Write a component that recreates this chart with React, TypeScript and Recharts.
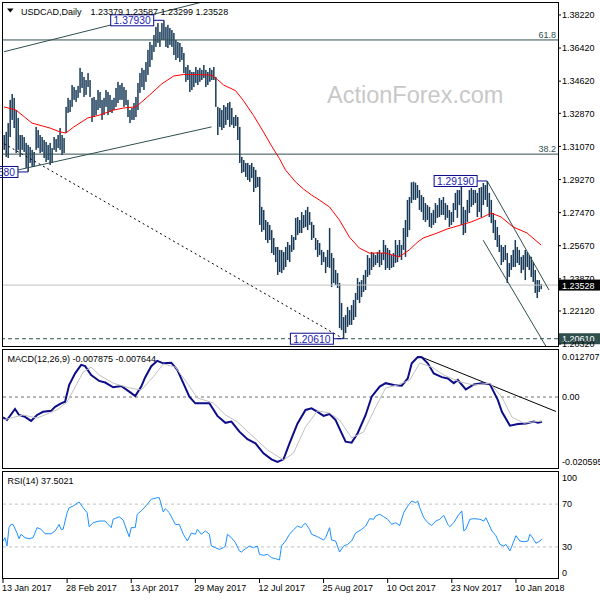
import { ComposedChart, Bar, Line, XAxis, YAxis, ReferenceLine, ReferenceDot } from 'recharts'

const FONT = "'Liberation Sans', Arial, sans-serif"
const BAR = '#183a58'
const SLATE = '#2f4f4f'
const NAVY = '#0a0a8c'
const TAG_TEXT = '#2323b0'

// x axis labels, one every 32 daily bars
const DATES = ['13 Jan 2017', '28 Feb 2017', '13 Apr 2017', '29 May 2017', '12 Jul 2017', '25 Aug 2017', '10 Oct 2017', '23 Nov 2017', '10 Jan 2018']

// daily highs / lows, 13 Jan 2017 onwards
const HIGH = [
  1.3169, 1.3186, 1.3234, 1.3360, 1.3392, 1.3371, 1.3305, 1.3262, 1.3169, 1.3169,
  1.3158, 1.3126, 1.3115, 1.3104, 1.3088, 1.3077, 1.3213, 1.3196, 1.3169, 1.3158,
  1.3142, 1.3131, 1.3115, 1.3126, 1.3098, 1.3158, 1.3147, 1.3169, 1.3207, 1.3169,
  1.3153, 1.3322, 1.3371, 1.3360, 1.3441, 1.3430, 1.3414, 1.3436, 1.3534, 1.3512,
  1.3485, 1.3468, 1.3506, 1.3468, 1.3371, 1.3376, 1.3360, 1.3414, 1.3403, 1.3360,
  1.3371, 1.3414, 1.3403, 1.3387, 1.3360, 1.3371, 1.3425, 1.3458, 1.3441, 1.3452,
  1.3430, 1.3414, 1.3360, 1.3305, 1.3316, 1.3343, 1.3376, 1.3452, 1.3506, 1.3534,
  1.3523, 1.3566, 1.3632, 1.3675, 1.3659, 1.3713, 1.3757, 1.3778, 1.3730, 1.3778,
  1.3793, 1.3757, 1.3768, 1.3751, 1.3740, 1.3724, 1.3686, 1.3675, 1.3670, 1.3648,
  1.3615, 1.3539, 1.3550, 1.3523, 1.3512, 1.3512, 1.3539, 1.3523, 1.3534, 1.3523,
  1.3550, 1.3523, 1.3512, 1.3534, 1.3523, 1.3539, 1.3485, 1.3322, 1.3316, 1.3305,
  1.3332, 1.3322, 1.3343, 1.3349, 1.3316, 1.3267, 1.3278, 1.3267, 1.3213, 1.3050,
  1.3033, 1.3017, 1.3017, 1.3006, 1.3017, 1.2995, 1.2979, 1.2941, 1.2941, 1.2778,
  1.2761, 1.2707, 1.2696, 1.2680, 1.2652, 1.2609, 1.2560, 1.2560, 1.2544, 1.2544,
  1.2533, 1.2560, 1.2587, 1.2571, 1.2625, 1.2614, 1.2718, 1.2723, 1.2707, 1.2750,
  1.2734, 1.2761, 1.2778, 1.2750, 1.2696, 1.2680, 1.2609, 1.2598, 1.2582, 1.2544,
  1.2533, 1.2506, 1.2544, 1.2663, 1.2527, 1.2500, 1.2435, 1.2418, 1.2364, 1.2255,
  1.2179, 1.2190, 1.2234, 1.2217, 1.2244, 1.2272, 1.2310, 1.2391, 1.2370, 1.2380,
  1.2408, 1.2435, 1.2516, 1.2500, 1.2533, 1.2527, 1.2516, 1.2533, 1.2544, 1.2527,
  1.2598, 1.2571, 1.2554, 1.2544, 1.2516, 1.2527, 1.2598, 1.2571, 1.2598, 1.2571,
  1.2663, 1.2707, 1.2816, 1.2832, 1.2912, 1.2915, 1.2910, 1.2897, 1.2870, 1.2843,
  1.2832, 1.2799, 1.2788, 1.2778, 1.2745, 1.2761, 1.2799, 1.2788, 1.2826, 1.2816,
  1.2832, 1.2799, 1.2788, 1.2761, 1.2750, 1.2799, 1.2854, 1.2870, 1.2870, 1.2912,
  1.2778, 1.2761, 1.2816, 1.2870, 1.2881, 1.2870, 1.2870, 1.2854, 1.2881, 1.2886,
  1.2908, 1.2897, 1.2919, 1.2854, 1.2816, 1.2745, 1.2707, 1.2669, 1.2625, 1.2571,
  1.2560, 1.2571, 1.2527, 1.2473, 1.2516, 1.2544, 1.2598, 1.2560, 1.2544, 1.2506,
  1.2516, 1.2544, 1.2533, 1.2516, 1.2506, 1.2478, 1.2435, 1.2380, 1.2380, 1.2359,
]

const LOW = [
  1.3088, 1.3050, 1.3044, 1.3158, 1.3251, 1.3207, 1.3071, 1.3088, 1.3050, 1.3088,
  1.3077, 1.2990, 1.2968, 1.3017, 1.2995, 1.2995, 1.3088, 1.3098, 1.3071, 1.3077,
  1.3044, 1.3022, 1.3033, 1.3006, 1.3017, 1.3088, 1.3077, 1.3098, 1.3088, 1.3060,
  1.3071, 1.3180, 1.3289, 1.3294, 1.3322, 1.3360, 1.3349, 1.3371, 1.3398, 1.3425,
  1.3376, 1.3387, 1.3430, 1.3376, 1.3240, 1.3267, 1.3278, 1.3305, 1.3316, 1.3251,
  1.3278, 1.3322, 1.3278, 1.3294, 1.3289, 1.3305, 1.3322, 1.3343, 1.3360, 1.3360,
  1.3322, 1.3332, 1.3267, 1.3234, 1.3251, 1.3251, 1.3267, 1.3305, 1.3398, 1.3430,
  1.3414, 1.3458, 1.3496, 1.3539, 1.3577, 1.3621, 1.3648, 1.3670, 1.3648, 1.3686,
  1.3686, 1.3648, 1.3642, 1.3659, 1.3648, 1.3604, 1.3577, 1.3588, 1.3566, 1.3577,
  1.3506, 1.3458, 1.3468, 1.3403, 1.3414, 1.3430, 1.3452, 1.3441, 1.3458, 1.3468,
  1.3479, 1.3430, 1.3441, 1.3458, 1.3468, 1.3468, 1.3322, 1.3169, 1.3213, 1.3196,
  1.3207, 1.3224, 1.3251, 1.3213, 1.3224, 1.3207, 1.3218, 1.3142, 1.3017, 1.2962,
  1.2968, 1.2941, 1.2924, 1.2914, 1.2935, 1.2859, 1.2881, 1.2886, 1.2680, 1.2642,
  1.2652, 1.2598, 1.2582, 1.2598, 1.2527, 1.2516, 1.2478, 1.2408, 1.2424, 1.2418,
  1.2435, 1.2451, 1.2489, 1.2478, 1.2533, 1.2544, 1.2598, 1.2625, 1.2636, 1.2636,
  1.2663, 1.2669, 1.2652, 1.2680, 1.2598, 1.2609, 1.2544, 1.2506, 1.2516, 1.2462,
  1.2478, 1.2418, 1.2451, 1.2446, 1.2342, 1.2364, 1.2353, 1.2337, 1.2119, 1.2108,
  1.2061, 1.2092, 1.2125, 1.2136, 1.2136, 1.2163, 1.2179, 1.2272, 1.2255, 1.2288,
  1.2315, 1.2326, 1.2397, 1.2408, 1.2435, 1.2451, 1.2462, 1.2473, 1.2451, 1.2462,
  1.2489, 1.2435, 1.2446, 1.2435, 1.2446, 1.2451, 1.2473, 1.2478, 1.2506, 1.2489,
  1.2544, 1.2506, 1.2614, 1.2652, 1.2799, 1.2816, 1.2816, 1.2826, 1.2761, 1.2750,
  1.2707, 1.2696, 1.2707, 1.2669, 1.2663, 1.2680, 1.2690, 1.2718, 1.2723, 1.2734,
  1.2734, 1.2707, 1.2718, 1.2669, 1.2680, 1.2696, 1.2761, 1.2718, 1.2788, 1.2680,
  1.2625, 1.2636, 1.2696, 1.2745, 1.2778, 1.2788, 1.2799, 1.2723, 1.2750, 1.2723,
  1.2788, 1.2816, 1.2778, 1.2723, 1.2690, 1.2636, 1.2598, 1.2560, 1.2533, 1.2462,
  1.2478, 1.2489, 1.2364, 1.2397, 1.2435, 1.2451, 1.2451, 1.2473, 1.2462, 1.2418,
  1.2435, 1.2380, 1.2451, 1.2435, 1.2397, 1.2370, 1.2310, 1.2282, 1.2315, 1.2330,
]

// [bar index, value] points
const MA = [
  [0, 1.3322], [6, 1.3305], [14, 1.3234], [23, 1.3207], [28, 1.3186], [31, 1.3180], [35, 1.3213],
  [42, 1.3262], [48, 1.3278], [55, 1.3305], [60, 1.3316], [66, 1.3322], [69, 1.3349], [73, 1.3387],
  [79, 1.3447], [85, 1.3490], [90, 1.3498], [98, 1.3498], [104, 1.3494], [107, 1.3470], [110, 1.3441],
  [116, 1.3410], [120, 1.3355], [125, 1.3275], [130, 1.3185], [134, 1.3110], [138, 1.3040], [141, 1.2979],
  [146, 1.2914], [150, 1.2875], [154, 1.2843], [158, 1.2815], [163, 1.2778], [168, 1.2707], [173, 1.2614],
  [178, 1.2554], [183, 1.2527], [191, 1.2527], [198, 1.2506], [203, 1.2544], [207, 1.2585], [210, 1.2609],
  [217, 1.2636], [222, 1.2658], [229, 1.2680], [234, 1.2696], [240, 1.2723], [244, 1.2745], [249, 1.2723],
  [255, 1.2669], [262, 1.2636], [269, 1.2571],
]

const MACD = [
  [0, -0.0065], [2, -0.0073], [6, -0.0038], [8, -0.0057], [11, -0.0063], [14, -0.0076], [17, -0.0057],
  [20, -0.0047], [24, -0.0044], [26, -0.0031], [29, -0.0020], [31, -0.0015], [33, 0.0038], [36, 0.0075],
  [39, 0.0102], [41, 0.0098], [44, 0.0070], [48, 0.0051], [51, 0.0046], [55, 0.0031], [59, 0.0035],
  [63, 0.0017], [66, 0.0003], [69, 0.0033], [71, 0.0063], [74, 0.0098], [77, 0.0115], [80, 0.0107],
  [84, 0.0109], [87, 0.0086], [90, 0.0044], [93, 0.0001], [96, -0.0020], [99, -0.0020], [103, -0.0020],
  [107, -0.0060], [111, -0.0082], [114, -0.0078], [118, -0.0110], [122, -0.0134], [126, -0.0147],
  [130, -0.0179], [134, -0.0198], [137, -0.0206], [140, -0.0198], [143, -0.0147], [147, -0.0084],
  [151, -0.0041], [154, -0.0036], [157, -0.0047], [160, -0.0060], [163, -0.0054], [166, -0.0073],
  [169, -0.0115], [171, -0.0142], [174, -0.0145], [177, -0.0115], [181, -0.0057], [184, 0.0001],
  [188, 0.0033], [191, 0.0044], [195, 0.0038], [199, 0.0036], [202, 0.0059], [204, 0.0107], [207, 0.0127],
  [209, 0.0126], [212, 0.0107], [215, 0.0075], [219, 0.0063], [222, 0.0059], [225, 0.0044], [227, 0.0054],
  [231, 0.0024], [235, 0.0040], [239, 0.0044], [243, 0.0041], [247, -0.0010], [249, -0.0047],
  [253, -0.0091], [257, -0.0086], [261, -0.0084], [265, -0.0078], [267, -0.0082], [269, -0.0079],
]

const SIGNAL = [
  [0, -0.0073], [10, -0.0057], [17, -0.0067], [27, -0.0041], [32, -0.0016], [36, 0.0032], [40, 0.0079],
  [44, 0.0095], [48, 0.0070], [55, 0.0044], [63, 0.0029], [69, 0.0022], [75, 0.0064], [80, 0.0105],
  [86, 0.0095], [92, 0.0044], [97, -0.0003], [105, -0.0019], [111, -0.0057], [117, -0.0079],
  [124, -0.0121], [132, -0.0168], [140, -0.0200], [145, -0.0178], [151, -0.0095], [157, -0.0044],
  [163, -0.0051], [168, -0.0073], [174, -0.0130], [180, -0.0111], [186, -0.0032], [191, 0.0029],
  [197, 0.0038], [203, 0.0054], [208, 0.0108], [214, 0.0095], [220, 0.0070], [228, 0.0048], [235, 0.0038],
  [243, 0.0044], [249, 0.0000], [254, -0.0064], [260, -0.0083], [269, -0.0076],
]

const RSI = [
  [0, 35.5], [1, 38.6], [2, 30.8], [3, 48], [4, 51], [5, 51], [7, 43], [8, 37.7], [9, 41.8], [11, 38.6],
  [13, 37.7], [15, 38.6], [17, 48], [19, 46.4], [21, 42.3], [24, 42.3], [26, 44.9], [28, 51], [29, 46.4],
  [30, 46.4], [32, 62], [33, 66.6], [35, 68.2], [38, 72], [40, 66.6], [42, 62], [43, 48.9], [45, 52.6],
  [48, 54.2], [51, 54.2], [52, 52], [54, 48], [55, 55.8], [58, 58.2], [60, 55], [61, 49.5], [63, 39.5],
  [64, 48], [66, 48], [67, 60.5], [69, 63.6], [72, 69.8], [74, 74.5], [77, 76], [78, 76], [80, 62.6],
  [81, 65.7], [83, 62], [86, 51], [88, 51], [90, 41.8], [92, 35.5], [94, 43], [96, 41.8], [97, 46.4],
  [99, 41.8], [101, 44.9], [103, 41.8], [104, 30.8], [106, 29.3], [108, 27.7], [110, 29.3], [111, 30.8],
  [112, 41.8], [114, 38.6], [116, 34], [118, 26.2], [119, 25.2], [121, 28.3], [123, 30.8], [125, 29.3],
  [127, 30.8], [128, 23.1], [130, 22.1], [132, 23.1], [134, 19.9], [136, 19], [138, 17.8], [139, 30.8],
  [141, 35.5], [143, 41.8], [145, 46.1], [147, 49.5], [149, 48], [150, 51], [151, 52], [153, 46.4],
  [154, 41.8], [157, 39.5], [160, 36.4], [161, 38.6], [163, 48], [164, 36.4], [166, 35.5], [168, 25.2],
  [170, 30.8], [172, 32.4], [174, 35.5], [176, 43], [179, 46.4], [181, 49.5], [183, 56.4], [185, 55.8],
  [186, 58.9], [188, 60.5], [190, 58.2], [192, 55.8], [194, 51], [196, 52.6], [198, 50], [200, 62],
  [202, 68.2], [204, 72.9], [206, 71.3], [207, 72.9], [208, 66.6], [210, 57.3], [212, 52.6], [214, 50],
  [216, 54.2], [218, 55.8], [220, 59.5], [222, 51], [223, 48.9], [225, 52.6], [227, 58.9], [229, 63.6],
  [230, 44.9], [231, 46.4], [233, 55.8], [235, 56.4], [238, 55.8], [240, 54.2], [241, 57.3], [244, 44.9],
  [246, 40.5], [248, 32.4], [250, 30.8], [251, 32.4], [253, 26.2], [254, 30.8], [256, 40.5], [258, 35.5],
  [260, 34.8], [262, 35.5], [263, 41.8], [264, 39.5], [266, 33.4], [268, 35.5], [269, 37.5],
]

const PRICE_TICKS = [1.3822, 1.3642, 1.3462, 1.3287, 1.3107, 1.2927, 1.2747, 1.2567, 1.2387, 1.2212, 1.2032]
const MACD_TICKS = [0.012707, 0, -0.020595]
const RSI_TICKS = [0, 30, 70, 100]

const SLOTS = 278 // bars plus the empty shift on the right

function buildRows() {
  const rows: any[] = []
  for (let i = 0; i < SLOTS; i++) {
    rows.push({ i, hl: i < HIGH.length ? [LOW[i], HIGH[i]] : undefined, ma: null, macd: null, signal: null, rsi: null })
  }
  MA.forEach(([i, v]) => { rows[i].ma = v })
  MACD.forEach(([i, v]) => { rows[i].macd = v })
  SIGNAL.forEach(([i, v]) => { rows[i].signal = v })
  RSI.forEach(([i, v]) => { rows[i].rsi = v })
  return rows
}

const rows = buildRows()

const HiLo = (p: any) => {
  if (p.height == null || !p.width) return null
  const top = p.height < 0 ? p.y + p.height : p.y
  const h = Math.max(Math.abs(p.height), 1)
  const cx = p.x + p.width / 2
  return <rect x={cx - 0.75} y={top} width={1.5} height={h} fill={BAR} />
}

const priceTag = (text: string) => (p: any) => {
  const { cx, cy } = p
  return (
    <g>
      <line x1={cx - 10} y1={cy} x2={cx} y2={cy} stroke={NAVY} />
      <rect x={cx - 53} y={cy - 5.5} width={43} height={11} fill="#fff" stroke={NAVY} />
      <text x={cx - 31.5} y={cy + 4} textAnchor="middle" fontSize={10.3} fill={TAG_TEXT} fontFamily={FONT}>{text}</text>
    </g>
  )
}

const axisTag = (bg: string, text: string) => ({ viewBox }: any) => {
  const x = viewBox.x + viewBox.width
  const y = viewBox.y
  return (
    <g>
      <rect x={x + 1} y={y - 5.5} width={42} height={11} fill={bg} />
      <text x={x + 4} y={y + 3.5} fill="#fff" fontSize={9} fontFamily={FONT}>{text}</text>
    </g>
  )
}

const fibTag = (text: string) => ({ viewBox }: any) => (
  <text x={viewBox.x + viewBox.width - 2} y={viewBox.y - 2} textAnchor="end" fontSize={9} fill={SLATE} fontFamily={FONT}>{text}</text>
)

const RsiTick = ({ x, y, payload }: any) => {
  const v = payload.value
  const shift = v === 100 ? 6 : v === 0 ? -6 : 0
  return (
    <text x={x} y={y + shift} dy="0.355em" fontSize={9} fill="#000" fontFamily={FONT}>{v}</text>
  )
}

const DateTick = ({ x, y, payload }: any) => (
  <g>
    <line x1={x} y1={y} x2={x} y2={y + 4} stroke="#000" />
    <text x={x - 1} y={y + 12} fontSize={9} fill="#000" fontFamily={FONT}>{DATES[payload.value / 32]}</text>
  </g>
)

const tickStyle = { fontSize: 9, fill: '#000', fontFamily: FONT }

export default function App() {
  return (
    <div style={{ position: 'absolute', left: 0, top: 0, width: 600, height: 600, background: '#fff', fontFamily: FONT }}>
      <div style={{ position: 'absolute', left: 0, top: 0 }}>
        <ComposedChart width={600} height={350} data={rows} margin={{ top: 3, right: 0, bottom: 3, left: 3 }}>
          <XAxis dataKey="i" hide />
          <YAxis
            orientation="right"
            width={42}
            domain={[1.2016, 1.3887]}
            allowDataOverflow
            ticks={PRICE_TICKS}
            interval={0}
            tickFormatter={(v: number) => v.toFixed(5)}
            tick={tickStyle}
            tickLine={{ stroke: '#000' }}
            tickSize={3}
            tickMargin={1}
            axisLine={false}
          />
          <ReferenceLine y={1.3686} stroke={SLATE} label={fibTag('61.8')} />
          <ReferenceLine y={1.3065} stroke={SLATE} label={fibTag('38.2')} />
          <ReferenceLine y={1.23528} stroke="#c0c0c0" label={axisTag('#000', '1.23528')} />
          <ReferenceLine y={1.2061} stroke={SLATE} strokeDasharray="4 3" label={axisTag(SLATE, '1.20610')} />
          <ReferenceLine segment={[{ x: 0, y: 1.3622 }, { x: 100, y: 1.3894 }]} stroke={SLATE} ifOverflow="hidden" />
          <ReferenceLine segment={[{ x: 0, y: 1.2962 }, { x: 104, y: 1.3213 }]} stroke={SLATE} ifOverflow="hidden" />
          <ReferenceLine segment={[{ x: 0, y: 1.3122 }, { x: 170, y: 1.2061 }]} stroke="#000" strokeDasharray="2 3" ifOverflow="hidden" />
          <ReferenceLine segment={[{ x: 242, y: 1.2919 }, { x: 273, y: 1.2326 }]} stroke={SLATE} ifOverflow="hidden" />
          <ReferenceLine segment={[{ x: 240, y: 1.2597 }, { x: 272, y: 1.2010 }]} stroke={SLATE} ifOverflow="hidden" />
          <Bar dataKey="hl" shape={HiLo} isAnimationActive={false} />
          <Line dataKey="ma" type="linear" stroke="#ff0000" strokeWidth={1} dot={false} activeDot={false} connectNulls isAnimationActive={false} />
          <ReferenceDot x={80} y={1.3793} ifOverflow="hidden" shape={priceTag('1.37930')} />
          <ReferenceDot x={242} y={1.2919} ifOverflow="hidden" shape={priceTag('1.29190')} />
          <ReferenceDot x={170} y={1.2061} ifOverflow="hidden" shape={priceTag('1.20610')} />
          <ReferenceDot x={12} y={1.2968} ifOverflow="hidden" shape={priceTag('1.29680')} />
        </ComposedChart>
      </div>

      <div style={{ position: 'absolute', left: 0, top: 348 }}>
        <ComposedChart width={600} height={122} data={rows} margin={{ top: 2, right: 0, bottom: 2, left: 3 }}>
          <XAxis dataKey="i" hide />
          <YAxis
            orientation="right"
            width={42}
            domain={[-0.02255, 0.01493]}
            allowDataOverflow
            ticks={MACD_TICKS}
            interval={0}
            tickFormatter={(v: number) => (v === 0 ? '0.00' : v.toFixed(6))}
            tick={tickStyle}
            tickLine={false}
            tickSize={3}
            tickMargin={1}
            axisLine={false}
          />
          <ReferenceLine y={0} stroke="#707070" strokeDasharray="3 3" />
          <ReferenceLine segment={[{ x: 208, y: 0.0129 }, { x: 276, y: -0.0046 }]} stroke="#000" ifOverflow="hidden" />
          <Line dataKey="macd" type="linear" stroke="#0d0d8a" strokeWidth={2} dot={false} activeDot={false} connectNulls isAnimationActive={false} />
          <Line dataKey="signal" type="linear" stroke="#c0c0c0" strokeWidth={1} dot={false} activeDot={false} connectNulls isAnimationActive={false} />
        </ComposedChart>
      </div>

      <div style={{ position: 'absolute', left: 0, top: 470 }}>
        <ComposedChart width={600} height={130} data={rows} margin={{ top: 2, right: 0, bottom: 0, left: 3 }}>
          <XAxis
            dataKey="i"
            height={21}
            interval={31}
            tick={DateTick}
            tickLine={false}
            axisLine={false}
            tickSize={0}
            tickMargin={0}
          />
          <YAxis
            orientation="right"
            width={42}
            domain={[0, 100]}
            allowDataOverflow
            ticks={RSI_TICKS}
            interval={0}
            tick={RsiTick}
            tickLine={false}
            tickSize={3}
            tickMargin={1}
            axisLine={false}
          />
          <ReferenceLine y={70} stroke="#c0c0c0" strokeDasharray="3 3" />
          <ReferenceLine y={30} stroke="#c0c0c0" strokeDasharray="3 3" />
          <Line dataKey="rsi" type="linear" stroke="#1e90ff" strokeWidth={1} dot={false} activeDot={false} connectNulls isAnimationActive={false} />
        </ComposedChart>
      </div>

      <svg width={600} height={600} style={{ position: 'absolute', left: 0, top: 0, pointerEvents: 'none' }} fontFamily={FONT}>
        <rect x={2.5} y={2.5} width={556} height={344} fill="none" stroke="#000" />
        <rect x={2.5} y={349.5} width={556} height={119} fill="none" stroke="#000" />
        <rect x={2.5} y={471.5} width={556} height={107} fill="none" stroke="#000" />
        <polygon points="7,8.5 13.5,8.5 10.25,12.5" fill="#000" />
        <text x={21} y={15} fontSize={9} fill="#000">USDCAD,Daily</text>
        <text x={90.5} y={15} fontSize={9} fill="#000">1.23379 1.23587 1.23299 1.23528</text>
        <text x={327} y={103} fontSize={23.5} fill="#c8c8c8">ActionForex.com</text>
        <text x={7.5} y={362} fontSize={9} fill="#000">MACD(12,26,9) -0.007875 -0.007644</text>
        <text x={7.5} y={484} fontSize={9} fill="#000">RSI(14) 37.5021</text>
      </svg>
    </div>
  )
}
